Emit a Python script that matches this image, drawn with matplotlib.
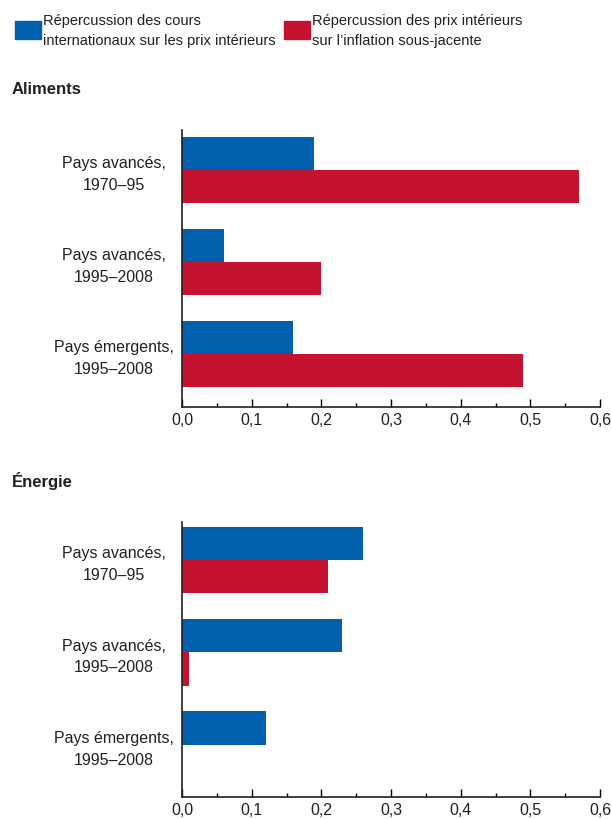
import matplotlib
matplotlib.use("Agg")
import matplotlib.pyplot as plt
import numpy as np
from matplotlib.patches import Rectangle
from matplotlib.ticker import MultipleLocator, FuncFormatter

plt.rcParams['font.family'] = ['Liberation Sans', 'DejaVu Sans']

categories = ["Pays avancés,\n1970–95", "Pays avancés,\n1995–2008", "Pays émergents,\n1995–2008"]
legend_labels = ["Répercussion des cours\ninternationaux sur les prix intérieurs",
                 "Répercussion des prix intérieurs\nsur l’inflation sous-jacente"]
panel_titles = ["Aliments", "Énergie"]

food_intl = [0.19, 0.06, 0.16]
food_core = [0.57, 0.20, 0.49]
energy_intl = [0.26, 0.23, 0.12]
energy_core = [0.21, 0.01, 0.0]

blue = "#0060ae"
red = "#c41230"
txt = "#231f20"

fig = plt.figure(figsize=(6.12, 8.19), dpi=100)

def panel(rect, intl, core, ylim):
    ax = fig.add_axes(rect)
    y = np.arange(len(categories))
    h = 0.36
    ax.barh(y - h / 2, intl, height=h, color=blue)
    ax.barh(y + h / 2, core, height=h, color=red)
    ax.set_ylim(ylim)
    ax.set_xlim(0, 0.6)
    ax.set_yticks(y)
    ax.set_yticklabels(categories, ha="center", fontsize=11.5, color=txt, linespacing=1.55)
    ax.tick_params(axis="y", length=0, pad=49)
    ax.xaxis.set_major_locator(MultipleLocator(0.1))
    ax.xaxis.set_minor_locator(MultipleLocator(0.05))
    ax.xaxis.set_major_formatter(FuncFormatter(lambda v, p: f"{v:.1f}".replace(".", ",")))
    ax.tick_params(axis="x", which="major", direction="in", length=6, width=1,
                   labelsize=11.5, labelcolor=txt, pad=4)
    ax.tick_params(axis="x", which="minor", direction="in", length=3, width=1)
    for s in ["top", "right"]:
        ax.spines[s].set_visible(False)
    for s in ["left", "bottom"]:
        ax.spines[s].set_linewidth(1.2)
        ax.spines[s].set_color(txt)
    return ax

panel([0.2974, 0.5031, 0.683, 0.3382], food_intl, food_core, (2.576, -0.435))
panel([0.2974, 0.0269, 0.683, 0.3357], energy_intl, energy_core, (2.565, -0.41))

# titles
fig.text(12 / 612, 1 - 89 / 819, panel_titles[0], fontsize=12, fontweight="bold", color=txt, va="center")
fig.text(12 / 612, 1 - 481 / 819, panel_titles[1], fontsize=12, fontweight="bold", color=txt, va="center")

# legend
for x0, col, lab in [(15, blue, legend_labels[0]), (284, red, legend_labels[1])]:
    fig.patches.append(Rectangle((x0 / 612, 1 - 39 / 819), 26 / 612, 18 / 819,
                                 transform=fig.transFigure, color=col))
    fig.text((x0 + 28) / 612, 1 - 31 / 819, lab, fontsize=10.5, color=txt,
             va="center", linespacing=1.5)

fig.savefig("out.png", dpi=100)
